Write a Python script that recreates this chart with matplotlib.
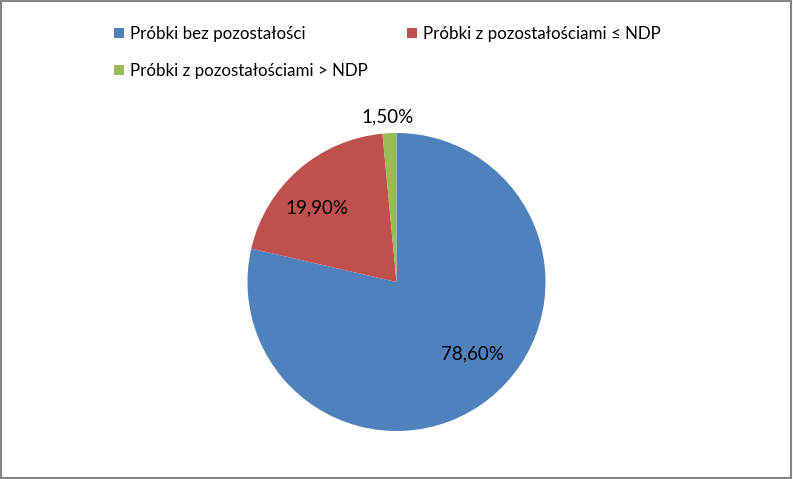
import matplotlib
matplotlib.use("Agg")
import numpy as np
import matplotlib.pyplot as plt
from matplotlib.patches import Patch, Rectangle

# Data
categories = [
    "Próbki bez pozostałości",
    "Próbki z pozostałościami ≤ NDP",
    "Próbki z pozostałościami > NDP",
]
shares = [78.6, 19.9, 1.5]
value_labels = ["78,60%", "19,90%", "1,50%"]
colors = ["#4F81BD", "#C0504D", "#9BBB59"]

# label placement: distance from centre (fraction of radius), angle shift (deg)
label_dist = [0.70, 0.73, 1.11]
label_shift = [8, 6, 0.5]

plt.rcParams["font.family"] = ["Lato", "DejaVu Sans"]

fig = plt.figure(figsize=(7.93, 4.79), dpi=100)
fig.patch.set_facecolor("white")

# pie axes: centre ~(396.5, 282) px, radius ~149 px
ax = fig.add_axes([247.5 / 793, 48 / 479, 298 / 793, 298 / 479])
wedges, _ = ax.pie(shares, colors=colors, startangle=90, counterclock=False,
                   radius=1.0, wedgeprops=dict(linewidth=0))
ax.set_xlim(-1, 1)
ax.set_ylim(-1, 1)
ax.set_aspect("equal")
ax.axis("off")

for w, lab, d, s in zip(wedges, value_labels, label_dist, label_shift):
    mid = np.deg2rad((w.theta1 + w.theta2) / 2 + s)
    ax.text(d * np.cos(mid), d * np.sin(mid), lab, ha="center", va="center",
            fontsize=13.5, color="black")

# legend laid out row-wise like the original (reorder for column fill)
handles = [Patch(facecolor=c, edgecolor="none") for c in colors]
order = [0, 2, 1]
fig.legend([handles[i] for i in order], [categories[i] for i in order],
           loc="upper left", bbox_to_anchor=(114 / 793, 1 - 26 / 479),
           ncol=2, frameon=False, fontsize=12.2, handlelength=0.58,
           handleheight=0.58, handletextpad=0.38, columnspacing=2.3,
           labelspacing=1.25, borderaxespad=0, borderpad=0)

# outer border
fig.patches.append(Rectangle((0.001, 0.002), 0.997, 0.996, transform=fig.transFigure,
                             fill=False, edgecolor="#868686", linewidth=1.5))

fig.savefig("out.png", dpi=100)
